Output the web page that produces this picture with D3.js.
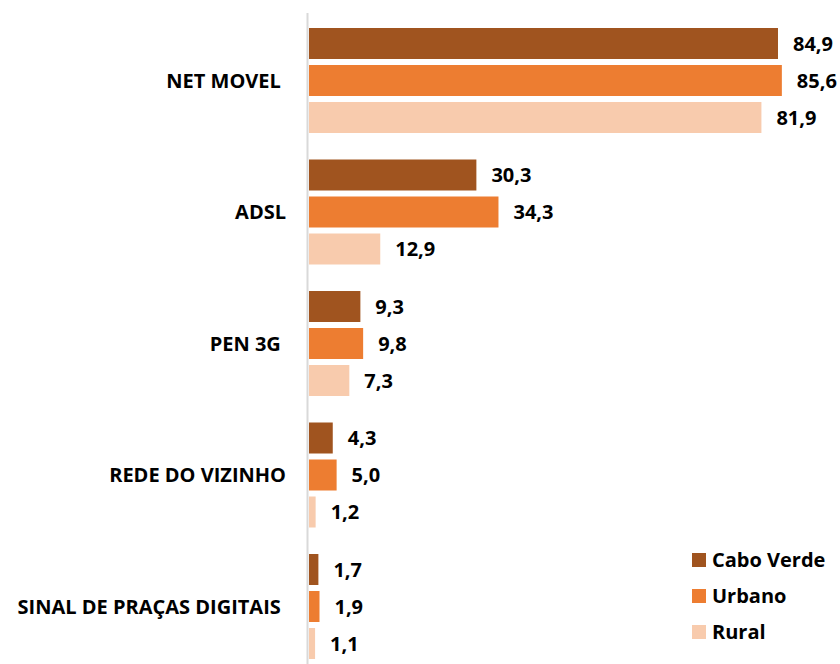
<!DOCTYPE html>
<html><head><meta charset="utf-8">
<script src="https://cdn.jsdelivr.net/npm/d3@7"></script>
<style>body{margin:0;background:#fff}svg{display:block}text{font-family:"Open Sans",sans-serif;font-weight:bold;fill:#000;white-space:pre}</style>
</head><body><svg id="c" width="840" height="664"></svg>
<script>
const categories = ["NET MOVEL ", "ADSL", "PEN 3G ", "REDE DO VIZINHO", "SINAL DE PRAÇAS DIGITAIS "];
const seriesNames = ["Cabo Verde", "Urbano", "Rural"];
const caboVerde = [84.9, 30.3, 9.3, 4.3, 1.7];
const urbano = [85.6, 34.3, 9.8, 5.0, 1.9];
const rural = [81.9, 12.9, 7.3, 1.2, 1.1];
const colors = ["#A0541F", "#ED7D31", "#F8CBAD"];

const seriesVals = [caboVerde, urbano, rural];
const svg = d3.select("#c");
const x0 = 309;
const x = d3.scaleLinear().domain([0, 100]).range([x0, x0 + 552.4]);
const y = d3.scaleBand().domain(categories).range([14.75, 672.25]).paddingInner(0).paddingOuter(0);
const yi = d3.scaleBand().domain(seriesNames).range([10.25, 121.25]).paddingInner(6/37).paddingOuter(3/37);
const fmt = v => d3.format(".1f")(v).replace(".", ",");

// axis line
svg.append("line").attr("x1", 307.5).attr("x2", 307.5).attr("y1", 13).attr("y2", 664)
  .attr("stroke", "#D9D9D9").attr("stroke-width", 2);

const g = svg.selectAll("g.cat").data(categories).join("g").attr("class", "cat")
  .attr("transform", d => `translate(0,${y(d)})`);

g.each(function(cat, ci) {
  const gg = d3.select(this);
  seriesNames.forEach((s, si) => {
    const v = seriesVals[si][ci];
    gg.append("rect").attr("x", x(0)).attr("y", yi(s)).attr("width", x(v) - x(0))
      .attr("height", yi.bandwidth()).attr("fill", colors[si]);
    gg.append("text").attr("x", x(v) + 15).attr("y", yi(s) + yi.bandwidth() / 2)
      .attr("dy", "0.36em").style("font-size", "20px").text(fmt(v));
  });
  gg.append("text").attr("x", 286).attr("y", y.bandwidth() / 2).attr("dy", "0.36em")
    .attr("text-anchor", "end").style("font-size", "20px").text(cat);
});

// legend
const lg = svg.append("g").attr("transform", "translate(692,560)");
seriesNames.forEach((s, i) => {
  lg.append("rect").attr("x", 0).attr("y", i * 36 - 7).attr("width", 14).attr("height", 14).attr("fill", colors[i]);
  lg.append("text").attr("x", 20).attr("y", i * 36).attr("dy", "0.36em").style("font-size", "20px").text(s);
});
</script></body></html>
